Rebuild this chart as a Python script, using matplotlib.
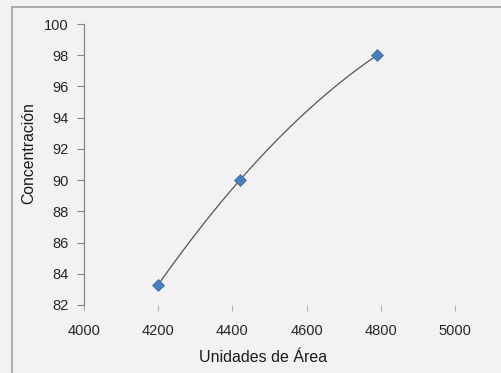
import numpy as np
import matplotlib
matplotlib.use("Agg")
import matplotlib.pyplot as plt
from matplotlib.lines import Line2D

# calibration points
area = [4200, 4420, 4790]
conc = [83.3, 90.0, 98.0]

xticks = [4000, 4200, 4400, 4600, 4800, 5000]
yticks = [82, 84, 86, 88, 90, 92, 94, 96, 98, 100]

W, H = 501, 373
dpi = 100
bg = "#f2f2f2"

plt.rcParams["font.family"] = ["Liberation Sans", "DejaVu Sans"]

fig = plt.figure(figsize=(W / dpi, H / dpi), dpi=dpi, facecolor=bg)
ax = fig.add_axes([84 / W, 1 - 305 / H, (455 - 84) / W, (305 - 24) / H])
ax.set_facecolor(bg)

# 2nd order polynomial trend line between first and last point
coef = np.polyfit(area, conc, 2)
xs = np.linspace(min(area), max(area), 200)
ax.plot(xs, np.polyval(coef, xs), color="#555555", lw=0.9, zorder=2)

ax.scatter(area, conc, marker="D", s=36, color="#4a7ebb",
           edgecolor="#3a6aa8", linewidth=0.6, zorder=3, clip_on=False)

ax.set_xlim(4000, 5000)
ax.set_ylim(82, 100)
ax.set_xticks(xticks)
ax.set_yticks(yticks)

for s in ["top", "right", "bottom"]:
    ax.spines[s].set_visible(False)
ax.spines["left"].set_color("#868686")
ax.spines["left"].set_linewidth(0.9)

ax.tick_params(axis="y", direction="out", length=5, width=0.8, color="#868686",
               labelsize=10.5, labelcolor="#262626", pad=6)
ax.tick_params(axis="x", direction="out", length=4, width=0.8, color="#b0b0b0",
               labelsize=10.5, labelcolor="#262626", pad=10)

ax.set_xlabel("Unidades de Área", fontsize=11.5, color="#1a1a1a")
ax.set_ylabel("Concentración", fontsize=11.3, color="#1a1a1a")
ax.xaxis.set_label_coords(0.482, -0.160)
ax.yaxis.set_label_coords(-0.128, 0.54)

# chart area frame (left and top edges)
fig.add_artist(Line2D([11.5 / W, 11.5 / W], [0, 1 - 7 / H], color="#a0a0a0",
                      lw=1.2, transform=fig.transFigure))
fig.add_artist(Line2D([11.5 / W, 1], [1 - 7 / H, 1 - 7 / H], color="#a0a0a0",
                      lw=1.2, transform=fig.transFigure))

fig.savefig("out.png", dpi=dpi, facecolor=bg)
